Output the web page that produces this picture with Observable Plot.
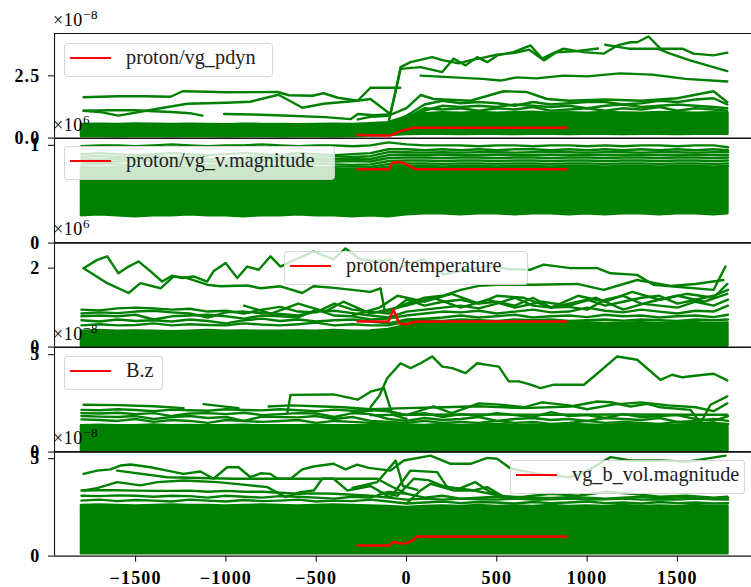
<!DOCTYPE html>
<html><head><meta charset="utf-8">
<script src="https://cdn.jsdelivr.net/npm/d3@7"></script>
<script src="https://cdn.jsdelivr.net/npm/@observablehq/plot@0.6"></script>
<style>
body{margin:0;background:#fff;}
#root{position:relative;width:751px;height:587px;overflow:hidden;background:#fff;}
#root svg{position:absolute;left:0;}
.mult{position:absolute;left:53px;font-family:"Liberation Serif","Times New Roman",Tinos,"DejaVu Serif","Noto Serif",serif;font-size:18px;line-height:18px;color:#000;white-space:nowrap;letter-spacing:0.6px;}
.mult sup{font-size:13px;vertical-align:0;position:relative;top:-7px;}
.legend{position:absolute;height:34px;background:rgba(255,255,255,0.8);border:1px solid rgba(204,204,204,0.8);border-radius:4px;box-sizing:border-box;font-family:"Liberation Serif","Times New Roman",Tinos,"DejaVu Serif","Noto Serif",serif;font-size:20.3px;color:#222;}
.legend .sw{position:absolute;left:5px;top:13px;width:41px;height:2.4px;background:#f00;}
.legend .tx{position:absolute;left:61px;top:1px;line-height:24px;white-space:nowrap;}
</style></head>
<body><div id="root"></div>
<script>
// shared time grid
const GRID = [-1800,-1700,-1600,-1500,-1400,-1300,-1200,-1100,-1000,-900,-800,-700,-600,-500,-400,-300,-200,-100,0,100,200,300,400,500,600,700,800,900,1000,1100,1200,1300,1400,1500,1600,1700,1780];
const X_TICKS = [-1500,-1000,-500,0,500,1000,1500];

// ---------- panel 1: proton/vg_pdyn (x1e-8)
const p1BandLow = [0.06,0.06,0.05,0.06,0.06,0.05,0.06,0.06,0.05,0.06,0.06,0.05,0.06,0.06,0.05,0.06,0.08,0.1,0.14,0.15,0.15,0.14,0.15,0.15,0.14,0.15,0.15,0.14,0.15,0.15,0.14,0.15,0.15,0.14,0.15,0.15,0.15];
const p1BandHigh = [0.55,0.56,0.55,0.57,0.56,0.55,0.56,0.55,0.54,0.56,0.55,0.55,0.54,0.55,0.56,0.55,0.58,0.62,0.85,0.98,1.02,1.0,1.03,1.0,1.02,1.04,1.0,1.02,1.0,1.03,1.01,1.0,1.03,1.02,1.0,1.02,1.0];
const p1A = [[-1788,1.64],[-1600,1.68],[-1450,1.68],[-1307,1.66],[-1240,1.88],[-1100,1.86],[-1000,1.84],[-714,1.85],[-650,1.72],[-520,1.7],[-460,1.8],[-380,1.62],[-271,1.5],[-200,2.02],[-35,2.02]];
const p1B = [[-1788,1.1],[-1700,1.05],[-1595,0.9],[-1379,1.18],[-1213,1.38],[-1000,1.42],[-864,1.46],[-709,1.74],[-576,1.22],[-460,1.38],[-271,1.5],[-200,1.57],[-90,0.97]];
const p1C = [[-1788,1.1],[-1650,1.12],[-1500,1.12],[-1400,1.08],[-1300,1.05],[-1200,1.0],[-1130,0.9]];
const p1C2 = [[-1010,0.97],[-850,0.95],[-650,0.9],[-450,0.84],[-310,0.76],[-270,0.97],[-180,0.92],[-100,0.95]];
const p1D = [[-100,0.6],[-60,1.9],[-33,2.85],[22,3.05],[142,3.25],[205,3.12],[290,3.0],[350,3.12],[420,3.22],[500,3.35],[600,3.42],[680,3.55],[760,3.12],[830,3.45],[950,3.5],[1060,3.6]];
const p1D2 = [[1100,3.75],[1230,3.59],[1390,3.59],[1460,3.39],[1570,3.12],[1776,2.69]];
const p1E = [[-90,0.97],[-50,2.2],[-33,2.78],[78,2.85],[198,2.65],[260,3.19],[327,2.92],[391,3.25],[447,3.05],[502,3.32],[592,3.45],[687,3.72],[751,3.19],[807,3.39],[869,3.59],[980,3.45],[1091,3.39],[1167,3.72],[1240,3.85],[1277,3.85],[1340,4.08],[1406,3.59],[1527,3.59],[1589,3.39],[1700,3.32],[1776,3.43]];
const p1F = [[78,2.51],[260,2.44],[420,2.38],[520,2.31],[610,2.44],[720,2.4],[870,2.51],[1000,2.48],[1180,2.6],[1360,2.55],[1545,2.38],[1776,2.27]];
const p1G = [[-270,0.75],[-200,0.85],[-100,0.9],[0,1.2],[78,1.73],[150,1.57],[354,1.5],[537,1.88],[667,1.85],[778,1.57],[900,1.5],[1100,1.55],[1300,1.5],[1500,1.6],[1700,1.88],[1776,1.44]];
const p1H = [[-100,0.5],[0,0.9],[100,1.35],[200,1.5],[300,1.4],[400,1.45],[500,1.4],[600,1.3],[700,1.45],[800,1.35],[900,1.4],[1000,1.45],[1100,1.45],[1200,1.35],[1300,1.4],[1400,1.5],[1500,1.45],[1600,1.55],[1700,1.6],[1776,1.35]];
const p1I = [[0,0.7],[100,1.1],[200,1.3],[300,1.25],[400,1.3],[500,1.25],[600,1.35],[700,1.3],[800,1.25],[900,1.3],[1000,1.2],[1100,1.3],[1200,1.35],[1300,1.25],[1400,1.3],[1500,1.35],[1600,1.3],[1700,1.25],[1776,1.2]];
const p1J = [[0,0.8],[100,1.2],[200,1.15],[300,1.2],[400,1.1],[500,1.2],[600,1.15],[700,1.25],[800,1.1],[900,1.15],[1000,1.2],[1100,1.1],[1200,1.2],[1300,1.15],[1400,1.25],[1500,1.1],[1600,1.2],[1700,1.15],[1776,1.1]];
const p1Red = [[-271,0.12],[-160,0.1],[-90,0.1],[-35,0.28],[40,0.42],[200,0.42],[400,0.42],[600,0.42],[890,0.42]];

// ---------- panel 2: proton/vg_v.magnitude (x1e6)
const p2BandLow = [0.28,0.29,0.28,0.27,0.28,0.28,0.29,0.28,0.28,0.27,0.28,0.28,0.29,0.28,0.28,0.27,0.28,0.27,0.29,0.3,0.3,0.29,0.3,0.3,0.29,0.3,0.3,0.29,0.3,0.29,0.3,0.3,0.29,0.3,0.3,0.29,0.3];
const p2BandHigh = [0.74,0.75,0.74,0.73,0.74,0.75,0.74,0.74,0.73,0.74,0.75,0.74,0.74,0.73,0.74,0.75,0.74,0.76,0.77,0.76,0.77,0.76,0.77,0.76,0.76,0.77,0.76,0.77,0.76,0.77,0.76,0.77,0.76,0.76,0.77,0.76,0.77];
const p2L1 = [0.99,1.0,1.0,0.99,1.0,1.01,1.0,0.99,1.0,1.0,1.01,1.0,0.99,1.0,1.0,0.99,1.0,1.03,1.01,1.0,1.0,1.0,0.99,1.0,1.0,0.99,1.0,1.0,0.99,1.0,0.99,1.0,1.0,0.99,1.0,1.0,0.98];
const p2L2 = [0.91,0.92,0.91,0.9,0.91,0.92,0.91,0.9,0.91,0.92,0.91,0.9,0.92,0.91,0.9,0.91,0.92,0.96,0.96,0.95,0.96,0.95,0.96,0.95,0.96,0.96,0.95,0.96,0.95,0.96,0.95,0.96,0.95,0.96,0.95,0.96,0.95];
const p2L3 = [0.885,0.89,0.88,0.885,0.89,0.88,0.885,0.89,null,0.88,0.885,0.89,0.88,0.885,0.89,0.88,0.89,0.93,0.93,0.925,0.93,0.925,0.93,0.93,0.925,0.93,0.935,0.93,0.925,0.93,0.93,0.925,0.93,0.93,0.925,0.93,0.93];
const p2L4 = [0.86,0.855,0.86,0.865,0.86,0.855,0.86,0.86,0.855,0.86,0.865,0.86,0.855,0.86,0.86,0.865,0.86,0.9,0.905,0.9,0.905,0.9,0.9,0.905,0.9,0.9,0.905,0.9,0.905,0.9,0.9,0.905,0.9,0.9,0.905,0.9,0.9];
const p2L5 = [0.835,0.83,0.835,0.84,0.835,0.83,0.835,0.835,0.83,0.835,0.84,0.835,0.83,0.835,0.835,0.84,0.835,0.87,0.875,0.875,0.87,0.875,0.875,0.87,0.875,0.875,0.87,0.875,0.875,0.87,0.875,0.875,0.87,0.875,0.875,0.87,0.875];
const p2L6 = [0.805,0.81,0.805,0.8,0.805,0.81,0.805,0.8,0.805,0.81,0.805,0.8,0.805,0.81,0.805,0.8,0.805,0.84,0.845,0.845,0.84,0.845,0.845,0.84,0.845,0.845,0.84,0.845,0.845,0.84,0.845,0.845,0.84,0.845,0.845,0.84,0.845];
const p2L7 = [0.78,0.775,0.78,0.785,0.78,0.775,0.78,0.785,0.78,0.775,0.78,0.785,0.78,0.775,0.78,0.785,0.78,0.81,0.815,0.815,0.81,0.815,0.815,0.81,0.815,0.815,0.81,0.815,0.815,0.81,0.815,0.815,0.81,0.815,0.815,0.81,0.815];
const p2L8 = [0.76,0.76,0.755,0.76,0.76,0.755,0.76,0.76,0.755,0.76,0.76,0.755,0.76,0.76,0.755,0.76,0.76,0.785,0.79,0.79,0.785,0.79,0.79,0.785,0.79,0.79,0.785,0.79,0.79,0.785,0.79,0.79,0.785,0.79,0.79,0.785,0.79];
const p2Red = [[-271,0.755],[-150,0.755],[-98,0.755],[-79,0.82],[-50,0.83],[-15,0.82],[50,0.755],[300,0.755],[600,0.755],[890,0.755]];

// ---------- panel 3: proton/temperature (x1e6)
const p3BandLow = [0.02,0.02,0.02,0.02,0.02,0.02,0.02,0.02,0.02,0.02,0.02,0.02,0.02,0.02,0.02,0.02,0.02,0.02,0.02,0.02,0.02,0.02,0.02,0.02,0.02,0.02,0.02,0.02,0.02,0.02,0.02,0.02,0.02,0.02,0.02,0.02,0.02];
const p3BandHigh = [0.4,0.42,0.4,0.41,0.4,0.39,0.4,0.42,0.4,0.41,0.4,0.4,0.41,0.4,0.42,0.4,0.41,0.45,0.55,0.6,0.62,0.6,0.61,0.62,0.6,0.62,0.61,0.6,0.62,0.6,0.61,0.62,0.6,0.61,0.62,0.6,0.61];
const p3P = [[-1788,2.0],[-1713,2.21],[-1657,2.3],[-1595,1.87],[-1539,2.04],[-1484,2.17],[-1417,1.92],[-1353,1.66],[-1297,1.81],[-1242,1.75],[-1178,1.79],[-1104,1.66],[-1069,1.92],[-1002,2.13],[-937,1.75],[-882,2.04],[-818,1.96],[-753,2.3],[-698,2.04],[-625,2.2],[-515,2.42],[-404,2.22],[-338,2.5],[-255,2.22],[-155,2.17],[-89,2.22],[-51,1.96],[4,2.1],[94,2.22],[205,1.84],[320,1.95],[450,2.05],[560,1.98],[687,1.96],[759,2.09],[908,2.0],[1056,2.0],[1130,1.87],[1277,1.83],[1368,1.58],[1462,1.54],[1700,1.45],[1766,2.04]];
const p3Q = [[-1788,2.0],[-1657,1.62],[-1539,1.37],[-1473,1.62],[-1362,1.49],[-1289,1.79],[-1214,1.75],[-1104,1.58],[-1030,1.54],[-882,1.56],[-808,1.49],[-698,1.54],[-577,1.37],[-515,1.54],[-400,1.5],[-300,1.45],[-200,1.4],[-144,1.49],[-120,0.9],[-50,1.0],[0,1.1],[100,1.25],[200,1.3],[300,1.45],[400,1.55],[500,1.58],[687,1.58],[945,1.6],[1091,1.45],[1277,1.7],[1462,1.55],[1600,1.6],[1755,1.7]];
const p3R1 = [0.95,0.93,0.98,1.0,0.98,0.95,0.97,0.9,0.92,0.85,0.95,1.02,0.9,0.88,1.1,0.95,0.9,0.85,1.2,1.05,1.15,1.2,1.1,1.15,1.05,1.25,1.0,1.1,1.2,1.05,1.15,1.25,1.3,1.1,1.2,1.3,1.45];
const p3R2 = [0.85,0.88,0.86,0.9,0.92,0.88,0.85,0.75,0.88,0.9,0.86,0.84,0.8,0.9,0.92,0.86,0.8,0.75,0.9,0.95,1.0,1.05,0.98,1.1,1.25,1.05,1.0,1.02,0.95,1.2,1.3,1.1,1.05,1.0,1.15,1.05,1.2];
const p3R3 = [0.78,0.8,0.78,0.82,0.7,0.78,0.8,0.82,0.78,0.72,0.8,0.78,0.75,0.95,0.8,0.78,0.7,0.72,0.8,0.85,0.9,0.88,0.92,0.85,0.9,0.95,0.88,0.9,1.0,0.92,0.88,0.95,0.9,0.85,0.92,0.9,1.05];
const p3R4 = [0.68,0.65,0.7,0.66,0.68,0.65,0.7,0.66,0.6,0.68,0.72,0.66,0.7,0.65,0.68,0.7,0.65,0.6,0.7,0.72,0.75,0.8,0.75,0.78,0.82,0.75,0.78,0.8,0.76,0.82,0.78,0.8,0.75,0.78,0.8,0.76,0.82];
const p3R5 = [0.55,0.58,0.55,0.56,0.6,0.55,0.58,0.56,0.55,0.6,0.57,0.55,0.58,0.62,0.55,0.58,0.55,0.55,0.65,0.68,0.66,0.7,0.68,0.66,0.7,0.68,0.7,0.66,0.68,0.7,0.67,0.7,0.68,0.66,0.7,0.68,0.7];
const p3R6 = [[-300,0.8],[-150,1.0],[-50,1.3],[100,1.15],[250,1.35],[400,1.1],[500,1.3],[650,1.25],[800,1.0],[950,1.3],[1100,1.15],[1250,1.4],[1400,1.2],[1550,1.35],[1700,1.25],[1776,1.6]];
const p3R7 = [[-900,1.05],[-750,0.85],[-600,1.1],[-450,0.9],[-350,1.15],[-200,0.85],[0,1.05],[150,1.25],[300,1.0],[450,1.2],[600,1.0],[750,1.15],[900,1.05],[1050,1.25],[1200,0.95],[1350,1.15],[1500,1.3],[1650,1.15],[1776,1.35]];
const p3Red = [[-271,0.65],[-150,0.65],[-100,0.65],[-73,0.95],[-40,0.6],[0,0.58],[50,0.64],[300,0.65],[600,0.65],[890,0.65]];

// ---------- panel 4: B.z (x1e-8)
const p4BandLow = [0.02,0.02,0.02,0.02,0.02,0.02,0.02,0.02,0.02,0.02,0.02,0.02,0.02,0.02,0.02,0.02,0.02,0.02,0.02,0.02,0.02,0.02,0.02,0.02,0.02,0.02,0.02,0.02,0.02,0.02,0.02,0.02,0.02,0.02,0.02,0.02,0.02];
const p4BandHigh = [1.35,1.38,1.35,1.36,1.4,1.35,1.37,1.35,1.36,1.38,1.35,1.36,1.35,1.38,1.36,1.35,1.37,1.35,1.32,1.3,1.32,1.3,1.31,1.32,1.3,1.32,1.31,1.3,1.32,1.3,1.31,1.32,1.3,1.31,1.32,1.3,1.31];
const p4R = [[-200,2.3],[-150,2.9],[-107,3.79],[-33,4.56],[22,4.31],[78,4.56],[142,4.91],[198,4.39],[253,4.31],[327,4.05],[391,4.56],[447,4.48],[511,4.39],[566,3.63],[622,3.63],[687,3.46],[742,3.28],[816,3.46],[982,3.46],[1037,3.88],[1167,4.91],[1277,4.74],[1406,3.71],[1471,3.97],[1527,3.84],[1646,3.97],[1701,4.02],[1776,3.68]];
const p4S = [[-660,2.0],[-642,2.94],[-404,2.96],[-271,2.69],[-199,3.1],[-125,3.28],[-78,1.92],[0,1.7]];
const p4T1 = [[-1788,2.43],[-1600,2.41],[-1400,2.35],[-1235,2.26]];
const p4T2 = [[-1124,2.46],[-930,2.26]];
const p4T3 = [[-764,2.34],[-642,2.4],[-500,2.35],[-350,2.3],[-200,2.2],[0,2.26],[200,2.3],[400,2.35],[648,2.26],[908,2.34],[1056,2.6],[1130,2.56],[1240,2.34],[1333,2.48],[1406,2.3],[1572,2.17],[1628,1.49],[1683,2.43],[1776,2.86]];
const p4V = [[-300,2.0],[-150,2.2],[0,1.9],[150,2.35],[250,2.0],[400,2.5],[500,2.45],[650,2.3],[750,2.55],[900,2.4],[1000,2.2],[1150,2.45],[1300,2.55],[1450,2.4],[1600,2.3],[1700,2.1],[1776,2.5]];
const p4U = [[-200,1.9],[0,1.92],[400,1.93],[800,1.92],[1200,1.93],[1600,1.92],[1776,1.92]];
const p4W1 = [2.17,2.15,2.2,2.16,2.1,2.18,2.15,2.12,2.2,2.16,2.14,2.2,2.15,2.1,2.18,2.12,2.16,2.1,1.9,2.0,1.8,1.95,1.85,2.0,1.9,1.8,2.05,1.85,1.9,1.75,1.95,1.8,1.85,1.9,1.7,1.6,1.85];
const p4W2 = [2.0,1.98,2.02,1.95,2.0,1.85,1.98,2.0,1.95,2.02,1.9,1.95,2.0,1.98,1.8,2.0,1.95,1.7,1.6,1.75,1.65,1.7,1.8,1.6,1.7,1.75,1.65,1.7,1.6,1.75,1.7,1.65,1.75,1.55,1.6,1.7,1.6];
const p4W3 = [1.85,1.82,1.8,1.85,1.7,1.8,1.85,1.75,1.8,1.6,1.82,1.8,1.78,1.85,1.7,1.8,1.6,1.55,1.5,1.6,1.5,1.55,1.5,1.6,1.5,1.55,1.45,1.5,1.6,1.5,1.55,1.5,1.45,1.55,1.5,1.5,1.45];
const p4W4 = [1.68,1.65,1.6,1.7,1.55,1.65,1.6,1.5,1.65,1.6,1.55,1.6,1.65,1.5,1.6,1.55,1.5,1.45,1.42,1.4,1.45,1.4,1.42,1.45,1.4,1.42,1.4,1.45,1.42,1.4,1.45,1.42,1.4,1.42,1.45,1.4,1.42];
const p4Red = [[-271,-0.4],[-100,-0.45],[0,-0.5],[400,-0.45],[890,-0.45]];

// ---------- panel 5: vg_b_vol.magnitude (x1e-8)
const p5BandLow = [0.12,0.12,0.12,0.12,0.12,0.12,0.12,0.12,0.12,0.12,0.12,0.12,0.12,0.12,0.12,0.12,0.12,0.12,0.12,0.12,0.12,0.12,0.12,0.12,0.12,0.12,0.12,0.12,0.12,0.12,0.12,0.12,0.12,0.12,0.12,0.12,0.12];
const p5BandHigh = [2.6,2.62,2.6,2.58,2.6,2.62,2.6,2.6,2.58,2.6,2.62,2.6,2.58,2.6,2.62,2.6,2.58,2.55,2.5,2.55,2.58,2.55,2.6,2.55,2.58,2.55,2.6,2.55,2.58,2.55,2.6,2.55,2.58,2.55,2.6,2.55,2.58];
const p5U = [[-1788,4.22],[-1713,4.39],[-1639,4.45],[-1584,4.65],[-1528,4.7],[-1417,4.56],[-1325,4.39],[-1235,4.22],[-1141,4.34],[-1069,3.97],[-993,4.56],[-930,4.56],[-864,4.05],[-808,4.25],[-753,4.22],[-716,3.97],[-642,3.97],[-577,4.45],[-515,4.6],[-404,4.74],[-338,4.45],[-273,4.7],[-209,4.53],[-89,4.39],[-15,4.91],[133,5.16],[244,4.74],[354,4.74],[447,5.04],[502,5.0],[576,4.5],[724,4.22],[908,4.05],[1001,4.39],[1130,5.08],[1240,4.91],[1406,4.91],[1554,4.85],[1766,5.16]];
const p5V = [[-1602,4.39],[-1325,4.05],[-958,3.97],[-587,3.97],[-162,3.97],[-89,3.6],[0,3.2]];
const p5W = [[-1788,3.37],[-1713,3.49],[-1602,3.8],[-1473,3.63],[-1380,3.8],[-1233,3.88],[-1048,3.8],[-903,3.67],[-771,3.54],[-670,3.03],[-587,3.28],[-513,3.37],[-467,3.97],[-404,3.97],[-328,3.37],[-199,3.6],[-89,3.0],[22,4.39],[170,4.31],[225,3.54],[354,3.4],[520,3.1],[742,2.9]];
const p5Q = [[-300,3.5],[-162,3.8],[-60,4.9],[-20,3.6],[60,3.4]];
const p5R = [[0,2.7],[78,3.37],[133,3.71],[260,3.37],[371,3.37],[447,3.54],[539,3.03],[650,3.05],[800,3.2],[950,3.1],[1100,3.3],[1250,3.2],[1400,3.05],[1550,3.1],[1700,3.0],[1776,3.05]];
const p5S = [[-150,3.3],[-50,3.1],[40,3.97],[120,3.9],[200,3.6],[290,3.45],[380,3.8],[460,3.3],[560,3.0],[700,2.95]];
const p5X = [3.37,3.38,3.38,3.36,3.35,3.35,3.36,3.3,3.35,3.3,3.3,3.25,3.2,3.22,3.2,3.15,3.1,3.0,2.9,2.95,2.9,2.95,2.92,2.9,2.95,2.9,2.92,2.95,2.9,2.92,2.95,2.9,2.92,2.9,2.95,2.92,2.9];
const p5Y = [3.1,3.08,3.12,3.1,3.05,3.1,3.08,3.0,3.1,3.05,3.0,3.08,3.05,3.0,2.95,3.05,3.0,3.3,3.2,3.0,3.1,2.95,3.0,3.05,2.95,3.0,2.98,3.02,3.0,2.95,3.0,3.05,2.98,3.0,3.02,2.95,3.0];
const p5Z = [2.85,2.9,2.82,2.88,2.85,2.8,2.9,2.85,2.8,2.88,2.82,2.85,2.9,2.8,2.85,2.82,2.9,2.8,2.7,2.75,2.8,2.72,2.78,2.75,2.7,2.78,2.72,2.75,2.8,2.72,2.75,2.7,2.78,2.72,2.75,2.7,2.72];
const p5Red = [[-271,0.55],[-98,0.55],[-70,0.72],[-43,0.67],[-6,0.64],[32,0.8],[59,1.01],[300,1.01],[600,1.01],[890,1.01]];

// ---------- labels
const LEGENDS = ["proton/vg_pdyn","proton/vg_v.magnitude","proton/temperature","B.z","vg_b_vol.magnitude"];
const MULTS = ["×10<sup>−8</sup>","×10<sup>6</sup>","×10<sup>6</sup>","×10<sup>−8</sup>","×10<sup>−8</sup>"];
const Y_TICKS = [[0,2.5],[0,1],[0,2],[0,5],[0,5]];
const Y_MAX = [4.2,1.07,2.65,5.37,5.37];

// ---------- layout
const TOP = 33, PH = 104.6, XB = 31;
const X_DOMAIN = [-1949, 1910];
const LEG_POS = [{l:64,t:43,w:209},{l:64,t:146,w:271},{l:284,t:251,w:244},{l:64,t:356,w:99},{l:510,t:460,w:235}];
const SERIF = "'Liberation Serif','Times New Roman',Tinos,'DejaVu Serif','Noto Serif',serif";

const panels = [
  {low:p1BandLow, high:p1BandHigh, grid:[], pairs:[p1A,p1B,p1C,p1C2,p1D,p1D2,p1E,p1F,p1G,p1H,p1I,p1J], red:p1Red, fmt:d=>d.toFixed(1)},
  {low:p2BandLow, high:p2BandHigh, grid:[p2L1,p2L2,p2L3,p2L4,p2L5,p2L6,p2L7,p2L8], pairs:[], red:p2Red, fmt:d=>String(d)},
  {low:p3BandLow, high:p3BandHigh, grid:[p3R1,p3R2,p3R3,p3R4,p3R5], pairs:[p3P,p3Q,p3R6,p3R7], red:p3Red, fmt:d=>String(d)},
  {low:p4BandLow, high:p4BandHigh, grid:[p4W1,p4W2,p4W3,p4W4], pairs:[p4R,p4S,p4T1,p4T2,p4T3,p4V,p4U], red:p4Red, fmt:d=>String(d)},
  {low:p5BandLow, high:p5BandHigh, grid:[p5X,p5Y,p5Z], pairs:[p5U,p5V,p5W,p5Q,p5R,p5S], red:p5Red, fmt:d=>String(d)}
];

const gridRows = (vals, id) => vals.map((v,i) => ({x: GRID[i], y: v, id}));
const pairRows = (pairs, id) => pairs.map(([x,y]) => ({x, y, id}));
const fmtX = d => d < 0 ? "\u2212" + Math.abs(d) : String(d);

const root = document.getElementById("root");
panels.forEach((p, k) => {
  const last = k === 4;
  const ymax = Y_MAX[k];
  const band = GRID.map((x,i) => ({x, y1: p.low[i], y2: p.high[i]}));
  const green = [].concat(
    ...p.grid.map((v,j) => gridRows(v, "g"+j)),
    ...p.pairs.map((v,j) => pairRows(v, "p"+j))
  );
  const chart = Plot.plot({
    width: 751,
    height: PH + (last ? XB : 0),
    marginLeft: 54, marginRight: 0, marginTop: 0, marginBottom: last ? XB : 0,
    style: {overflow: "visible", background: "transparent", fontFamily: SERIF, fontSize: "18px", fontWeight: "bold", letterSpacing: "1.2px", color: "#000"},
    x: {domain: X_DOMAIN, axis: last ? undefined : null},
    y: {domain: [0, ymax]},
    marks: [
      Plot.areaY(band, {x: "x", y1: "y1", y2: "y2", fill: "green", stroke: "green", strokeWidth: 2.4}),
      Plot.line(green, {x: "x", y: "y", z: "id", stroke: "green", strokeWidth: 2.4, strokeLinejoin: "round"}),
      Plot.line(pairRows(p.red, "red"), {x: "x", y: "y", stroke: "red", strokeWidth: 2.5, clip: true}),
      Plot.ruleY([0], {stroke: "#111", strokeWidth: 1.1}),
      Plot.ruleY([ymax], {stroke: "#111", strokeWidth: 1.1}),
      Plot.ruleX([X_DOMAIN[0]], {stroke: "#111", strokeWidth: 1.1}),
      Plot.axisY({ticks: Y_TICKS[k], tickFormat: p.fmt, tickSize: 6, tickPadding: 8, label: null}),
      last ? Plot.axisX({ticks: X_TICKS, tickFormat: fmtX, tickSize: 6, tickPadding: 9, label: null}) : null
    ]
  });
  chart.style.top = (TOP + k * PH) + "px";
  root.appendChild(chart);
});

panels.forEach((p, k) => {
  const top = TOP + k * PH;
  const m = document.createElement("div");
  m.className = "mult";
  m.innerHTML = MULTS[k];
  m.style.top = (top - 22) + "px";
  root.appendChild(m);

  const L = LEG_POS[k];
  const lg = document.createElement("div");
  lg.className = "legend";
  lg.style.left = L.l + "px"; lg.style.top = L.t + "px"; lg.style.width = L.w + "px";
  lg.innerHTML = '<div class="sw"></div><div class="tx">' + LEGENDS[k] + '</div>';
  root.appendChild(lg);
});
</script></body></html>
